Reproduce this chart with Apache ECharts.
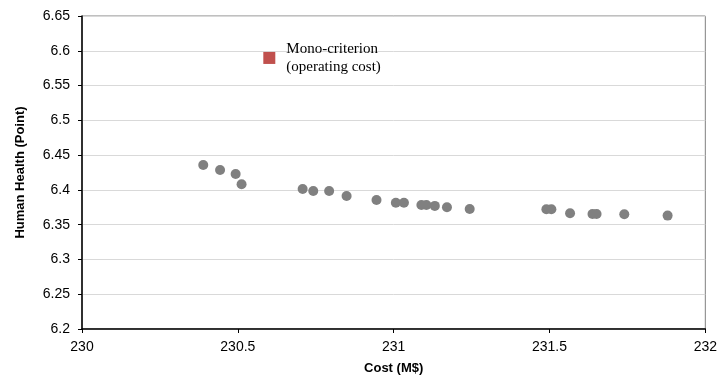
<!DOCTYPE html>
<html>
<head>
<meta charset="utf-8">
<script src="https://cdn.jsdelivr.net/npm/echarts@6/dist/echarts.min.js"></script>
<style>html,body{margin:0;padding:0;background:#fff;}#c{width:720px;height:388px;}</style>
</head>
<body>
<div id="c"></div>
<script>
const paretoCost = [230.389, 230.443, 230.493, 230.512, 230.708, 230.742, 230.793, 230.849, 230.945, 231.007, 231.033, 231.089, 231.105, 231.132, 231.171, 231.244, 231.490, 231.506, 231.566, 231.638, 231.651, 231.740, 231.879];
const paretoHealth = [6.4357, 6.4286, 6.4228, 6.408, 6.4013, 6.3984, 6.3984, 6.3913, 6.3855, 6.3816, 6.3816, 6.3783, 6.3783, 6.377, 6.375, 6.3726, 6.3722, 6.3722, 6.3664, 6.3654, 6.3654, 6.365, 6.363];
const monoCost = [230.601];
const monoHealth = [6.5897];
const monoLabel = ['Mono-criterion', '(operating cost)'];
const xTitle = 'Cost (M$)';
const yTitle = 'Human Health (Point)';

const chart = echarts.init(document.getElementById('c'));
chart.setOption({
  animation: false,
  grid: { left: 82, right: 14, top: 16, bottom: 59, show: true, borderColor: '#808080', borderWidth: 1 },
  xAxis: {
    type: 'value', min: 230, max: 232, interval: 0.5,
    name: xTitle, nameLocation: 'middle', nameGap: 33,
    nameTextStyle: { fontFamily: 'Liberation Sans', fontWeight: 'bold', fontSize: 13, color: '#000' },
    axisLine: { show: true, onZero: false, lineStyle: { color: '#000', width: 1.5 } },
    axisTick: { show: true, length: 4, lineStyle: { color: '#000' } },
    axisLabel: { fontFamily: 'Liberation Sans', fontSize: 14, color: '#000', margin: 11 },
    splitLine: { show: false }
  },
  yAxis: {
    type: 'value', min: 6.2, max: 6.65, interval: 0.05,
    name: yTitle, nameLocation: 'middle', nameGap: 55,
    nameTextStyle: { fontFamily: 'Liberation Sans', fontWeight: 'bold', fontSize: 13, color: '#000' },
    axisLine: { show: true, onZero: false, lineStyle: { color: '#000', width: 1.5 } },
    axisTick: { show: true, length: 4, lineStyle: { color: '#000' } },
    axisLabel: { fontFamily: 'Liberation Sans', fontSize: 14, color: '#000', margin: 12,
      formatter: v => String(parseFloat(v.toFixed(2))) },
    splitLine: { show: true, lineStyle: { color: '#d9d9d9', width: 1 } }
  },
  series: [
    {
      type: 'scatter', symbol: 'circle', symbolSize: 10,
      itemStyle: { color: '#808080', opacity: 1 },
      data: paretoCost.map((c, i) => [c, paretoHealth[i]])
    },
    {
      type: 'scatter', symbol: 'rect', symbolSize: 12,
      itemStyle: { color: '#C0504D', opacity: 1 },
      label: {
        show: true, position: 'right', distance: 11,
        formatter: monoLabel.join('\n'),
        fontFamily: 'Liberation Serif', fontSize: 15, lineHeight: 18, color: '#000', align: 'left'
      },
      data: monoCost.map((c, i) => [c, monoHealth[i]])
    }
  ]
});
</script>
</body>
</html>
